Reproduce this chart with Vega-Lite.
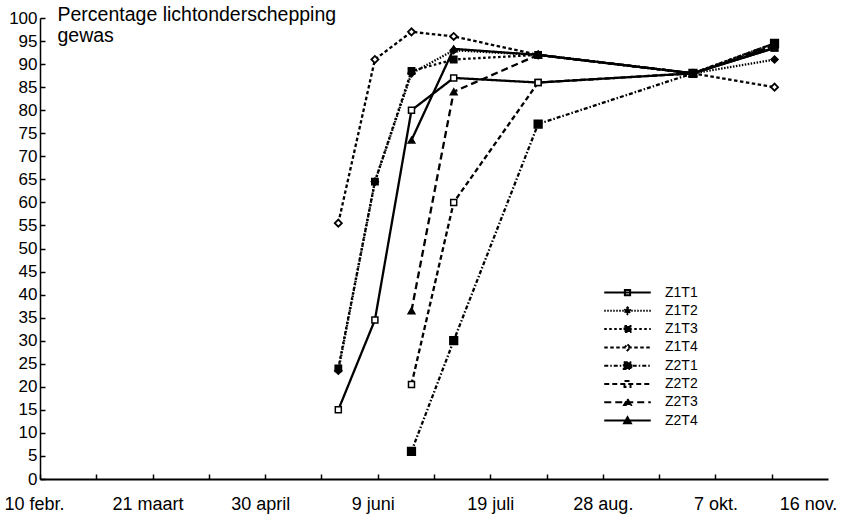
{
  "$schema": "https://vega.github.io/schema/vega-lite/v6.json",
  "width": 788,
  "height": 461,
  "autosize": {"type": "none"},
  "padding": {"left": 40, "top": 18, "right": 13, "bottom": 41},
  "background": "white",
  "config": {"view": {"stroke": null}, "font": "Liberation Sans", "axis": {"grid": false}},
  "data": {"values": [
    {"series": "Z1T1", "date": "1988-05-26", "percentage": 15},
    {"series": "Z1T1", "date": "1988-06-08", "percentage": 34.5},
    {"series": "Z1T1", "date": "1988-06-21", "percentage": 80},
    {"series": "Z1T1", "date": "1988-07-06", "percentage": 87},
    {"series": "Z1T1", "date": "1988-08-05", "percentage": 86},
    {"series": "Z1T1", "date": "1988-09-29", "percentage": 88},
    {"series": "Z1T1", "date": "1988-10-28", "percentage": 93.5},
    {"series": "Z1T2", "date": "1988-05-26", "percentage": 23.5},
    {"series": "Z1T2", "date": "1988-06-08", "percentage": 64.5},
    {"series": "Z1T2", "date": "1988-06-21", "percentage": 88},
    {"series": "Z1T2", "date": "1988-07-06", "percentage": 93},
    {"series": "Z1T2", "date": "1988-08-05", "percentage": 92},
    {"series": "Z1T2", "date": "1988-09-29", "percentage": 88},
    {"series": "Z1T2", "date": "1988-10-28", "percentage": 91},
    {"series": "Z1T3", "date": "1988-05-26", "percentage": 24},
    {"series": "Z1T3", "date": "1988-06-08", "percentage": 64.5},
    {"series": "Z1T3", "date": "1988-06-21", "percentage": 88.5},
    {"series": "Z1T3", "date": "1988-07-06", "percentage": 91},
    {"series": "Z1T3", "date": "1988-08-05", "percentage": 92},
    {"series": "Z1T3", "date": "1988-09-29", "percentage": 88},
    {"series": "Z1T3", "date": "1988-10-28", "percentage": 94.5},
    {"series": "Z1T4", "date": "1988-05-26", "percentage": 55.5},
    {"series": "Z1T4", "date": "1988-06-08", "percentage": 91},
    {"series": "Z1T4", "date": "1988-06-21", "percentage": 97},
    {"series": "Z1T4", "date": "1988-07-06", "percentage": 96},
    {"series": "Z1T4", "date": "1988-08-05", "percentage": 92},
    {"series": "Z1T4", "date": "1988-09-29", "percentage": 88},
    {"series": "Z1T4", "date": "1988-10-28", "percentage": 85},
    {"series": "Z2T1", "date": "1988-06-21", "percentage": 6},
    {"series": "Z2T1", "date": "1988-07-06", "percentage": 30},
    {"series": "Z2T1", "date": "1988-08-05", "percentage": 77},
    {"series": "Z2T1", "date": "1988-09-29", "percentage": 88},
    {"series": "Z2T1", "date": "1988-10-28", "percentage": 94.5},
    {"series": "Z2T2", "date": "1988-06-21", "percentage": 20.5},
    {"series": "Z2T2", "date": "1988-07-06", "percentage": 60},
    {"series": "Z2T2", "date": "1988-08-05", "percentage": 86},
    {"series": "Z2T2", "date": "1988-09-29", "percentage": 88},
    {"series": "Z2T2", "date": "1988-10-28", "percentage": 94},
    {"series": "Z2T3", "date": "1988-06-21", "percentage": 36.5},
    {"series": "Z2T3", "date": "1988-07-06", "percentage": 84},
    {"series": "Z2T3", "date": "1988-08-05", "percentage": 92},
    {"series": "Z2T3", "date": "1988-09-29", "percentage": 88},
    {"series": "Z2T3", "date": "1988-10-28", "percentage": 94},
    {"series": "Z2T4", "date": "1988-06-21", "percentage": 73.5},
    {"series": "Z2T4", "date": "1988-07-06", "percentage": 93.3},
    {"series": "Z2T4", "date": "1988-08-05", "percentage": 92},
    {"series": "Z2T4", "date": "1988-09-29", "percentage": 88},
    {"series": "Z2T4", "date": "1988-10-28", "percentage": 93.5}
  ]},
  "encoding": {
    "x": {
      "field": "date", "type": "temporal",
      "scale": {"type": "utc", "domain": [571449600000, 595641600000]},
      "axis": {
        "title": null,
        "values": [571449600000, 573177600000, 574905600000, 576633600000, 578361600000, 580089600000, 581817600000, 583545600000, 585273600000, 587001600000, 588729600000, 590457600000, 592185600000, 593913600000, 595641600000],
        "labelExpr": "['10 febr.','','21 maart','','30 april','','9 juni','','19 juli','','28 aug.','','7 okt.','','16 nov.'][round((datum.value - 571449600000) / 1728000000)]",
        "domain": true,
        "domainColor": "black",
        "domainWidth": 1.8,
        "tickSize": -5,
        "tickWidth": 1.5,
        "tickColor": {"condition": {"test": "datum.value > 595000000000", "value": "transparent"}, "value": "black"},
        "labelFont": "Liberation Sans",
        "labelFontSize": 18,
        "labelColor": "black",
        "labelPadding": 21,
        "labelOverlap": false,
        "labelFlush": false,
        "labelBound": false,
        "labelOffset": {"condition": [{"test": "datum.value < 572000000000", "value": -6}, {"test": "datum.value > 595000000000", "value": -20}, {"test": "datum.value < 582000000000", "value": -5}], "value": 0}
      }
    },
    "y": {
      "field": "percentage", "type": "quantitative",
      "scale": {"domain": [0, 100]},
      "axis": {
        "values": [0, 5, 10, 15, 20, 25, 30, 35, 40, 45, 50, 55, 60, 65, 70, 75, 80, 85, 90, 95, 100],
        "tickSize": -5,
        "tickWidth": 1.5,
        "tickColor": "black",
        "domainColor": "black",
        "domainWidth": 1.5,
        "labelFont": "Liberation Sans",
        "labelFontSize": 17,
        "labelColor": "black",
        "labelPadding": 8,
        "title": ["Percentage lichtonderschepping", "gewas"],
        "titleAngle": 0,
        "titleAlign": "left",
        "titleBaseline": "alphabetic",
        "titleX": 17,
        "titleY": 2,
        "titleFont": "Liberation Sans",
        "titleFontSize": 19.5,
        "titleFontWeight": "normal",
        "titleColor": "black",
        "titleLineHeight": 21
      }
    }
  },
  "resolve": {"scale": {"strokeDash": "independent", "shape": "independent", "fill": "independent", "stroke": "independent"}},
  "layer": [
    {
      "mark": {"type": "line", "strokeWidth": 2.3, "color": "black"},
      "encoding": {
        "strokeDash": {
          "field": "series", "type": "nominal",
          "scale": {"domain": ["Z1T1", "Z1T2", "Z1T3", "Z1T4", "Z2T1", "Z2T2", "Z2T3", "Z2T4"],
                    "range": [[1, 0], [1.5, 1.5], [2.5, 2.5], [3.5, 2.5], [4, 2, 1.5, 2], [5, 3], [7, 4], [1, 0]]},
          "legend": null
        }
      }
    },
    {
      "transform": [{"filter": {"field": "series", "oneOf": ["Z1T1", "Z2T2"]}}],
      "mark": {"type": "point", "shape": "square", "size": 36, "fill": "white", "fillOpacity": 1, "stroke": "black", "strokeWidth": 1.5, "opacity": 1}
    },
    {
      "transform": [{"filter": {"field": "series", "oneOf": ["Z1T3"]}}],
      "mark": {"type": "point", "shape": "square", "size": 40, "fill": "black", "fillOpacity": 1, "stroke": "black", "strokeWidth": 1.5, "opacity": 1}
    },
    {
      "transform": [{"filter": {"field": "series", "oneOf": ["Z2T1"]}}],
      "mark": {"type": "point", "shape": "square", "size": 60, "fill": "black", "fillOpacity": 1, "stroke": "black", "strokeWidth": 1.5, "opacity": 1}
    },
    {
      "transform": [{"filter": {"field": "series", "oneOf": ["Z1T4"]}}],
      "mark": {"type": "point", "shape": "diamond", "size": 50, "fill": "white", "fillOpacity": 1, "stroke": "black", "strokeWidth": 1.8, "opacity": 1}
    },
    {
      "transform": [{"filter": {"field": "series", "oneOf": ["Z1T2"]}}],
      "mark": {"type": "point", "shape": "diamond", "size": 50, "fill": "black", "fillOpacity": 1, "stroke": "black", "strokeWidth": 1.5, "opacity": 1}
    },
    {
      "transform": [{"filter": {"field": "series", "oneOf": ["Z2T3", "Z2T4"]}}],
      "mark": {"type": "point", "shape": "triangle-up", "size": 45, "fill": "black", "fillOpacity": 1, "stroke": "black", "strokeWidth": 1.5, "opacity": 1}
    },
    {
      "mark": {"type": "point", "filled": false, "strokeWidth": 2, "opacity": 0},
      "encoding": {
        "stroke": {"field": "series", "type": "nominal",
          "scale": {"domain": ["Z1T1", "Z1T2", "Z1T3", "Z1T4", "Z2T1", "Z2T2", "Z2T3", "Z2T4"],
                    "range": ["black", "black", "black", "black", "black", "black", "black", "black"]},
          "legend": {"title": null, "orient": "none", "legendX": 579, "legendY": 266, "symbolSize": 225, "symbolStrokeWidth": 2, "symbolOpacity": 1, "labelFont": "Liberation Sans", "labelFontSize": 14, "labelColor": "black", "labelOffset": 29, "rowPadding": 2.3, "padding": 0}},
        "shape": {"field": "series", "type": "nominal",
          "scale": {"domain": ["Z1T1", "Z1T2", "Z1T3", "Z1T4", "Z2T1", "Z2T2", "Z2T3", "Z2T4"],
                    "range": [
                      "M-3.1,0H3.1M-0.35,-0.35H0.35V0.35H-0.35Z",
                      "M-3.1,0H3.1M0,-0.45L0.45,0L0,0.45L-0.45,0Z",
                      "M-3.1,0H3.1M-0.4,-0.4H0.4V0.4H-0.4Z",
                      "M-3.1,0H3.1M0,-0.4L0.4,0L0,0.4L-0.4,0Z",
                      "M-3.1,0H3.1M-0.5,-0.45H0.5V0.45H-0.5Z",
                      "M-3.1,0H3.1M-0.4,-0.4H0.4V0.4H-0.4Z",
                      "M-3.1,0H3.1M0,-0.45L0.45,0.35H-0.45Z",
                      "M-3.1,0H3.1M0,-0.45L0.45,0.35H-0.45Z"
                    ]},
          "legend": {"title": null, "orient": "none", "legendX": 579, "legendY": 266, "symbolSize": 225, "symbolStrokeWidth": 2, "symbolOpacity": 1, "labelFont": "Liberation Sans", "labelFontSize": 14, "labelColor": "black", "labelOffset": 29, "rowPadding": 2.3, "padding": 0}},
        "strokeDash": {"field": "series", "type": "nominal",
          "scale": {"domain": ["Z1T1", "Z1T2", "Z1T3", "Z1T4", "Z2T1", "Z2T2", "Z2T3", "Z2T4"],
                    "range": [[1, 0], [1.5, 1.5], [2.5, 2.5], [3.5, 2.5], [4, 2, 1.5, 2], [5, 3], [7, 4], [1, 0]]},
          "legend": {"title": null, "orient": "none", "legendX": 579, "legendY": 266, "symbolSize": 225, "symbolStrokeWidth": 2, "symbolOpacity": 1, "labelFont": "Liberation Sans", "labelFontSize": 14, "labelColor": "black", "labelOffset": 29, "rowPadding": 2.3, "padding": 0}},
        "fill": {"field": "series", "type": "nominal",
          "scale": {"domain": ["Z1T1", "Z1T2", "Z1T3", "Z1T4", "Z2T1", "Z2T2", "Z2T3", "Z2T4"],
                    "range": ["white", "black", "black", "white", "black", "white", "black", "black"]},
          "legend": {"title": null, "orient": "none", "legendX": 579, "legendY": 266, "symbolSize": 225, "symbolStrokeWidth": 2, "symbolOpacity": 1, "labelFont": "Liberation Sans", "labelFontSize": 14, "labelColor": "black", "labelOffset": 29, "rowPadding": 2.3, "padding": 0}}
      }
    }
  ]
}
